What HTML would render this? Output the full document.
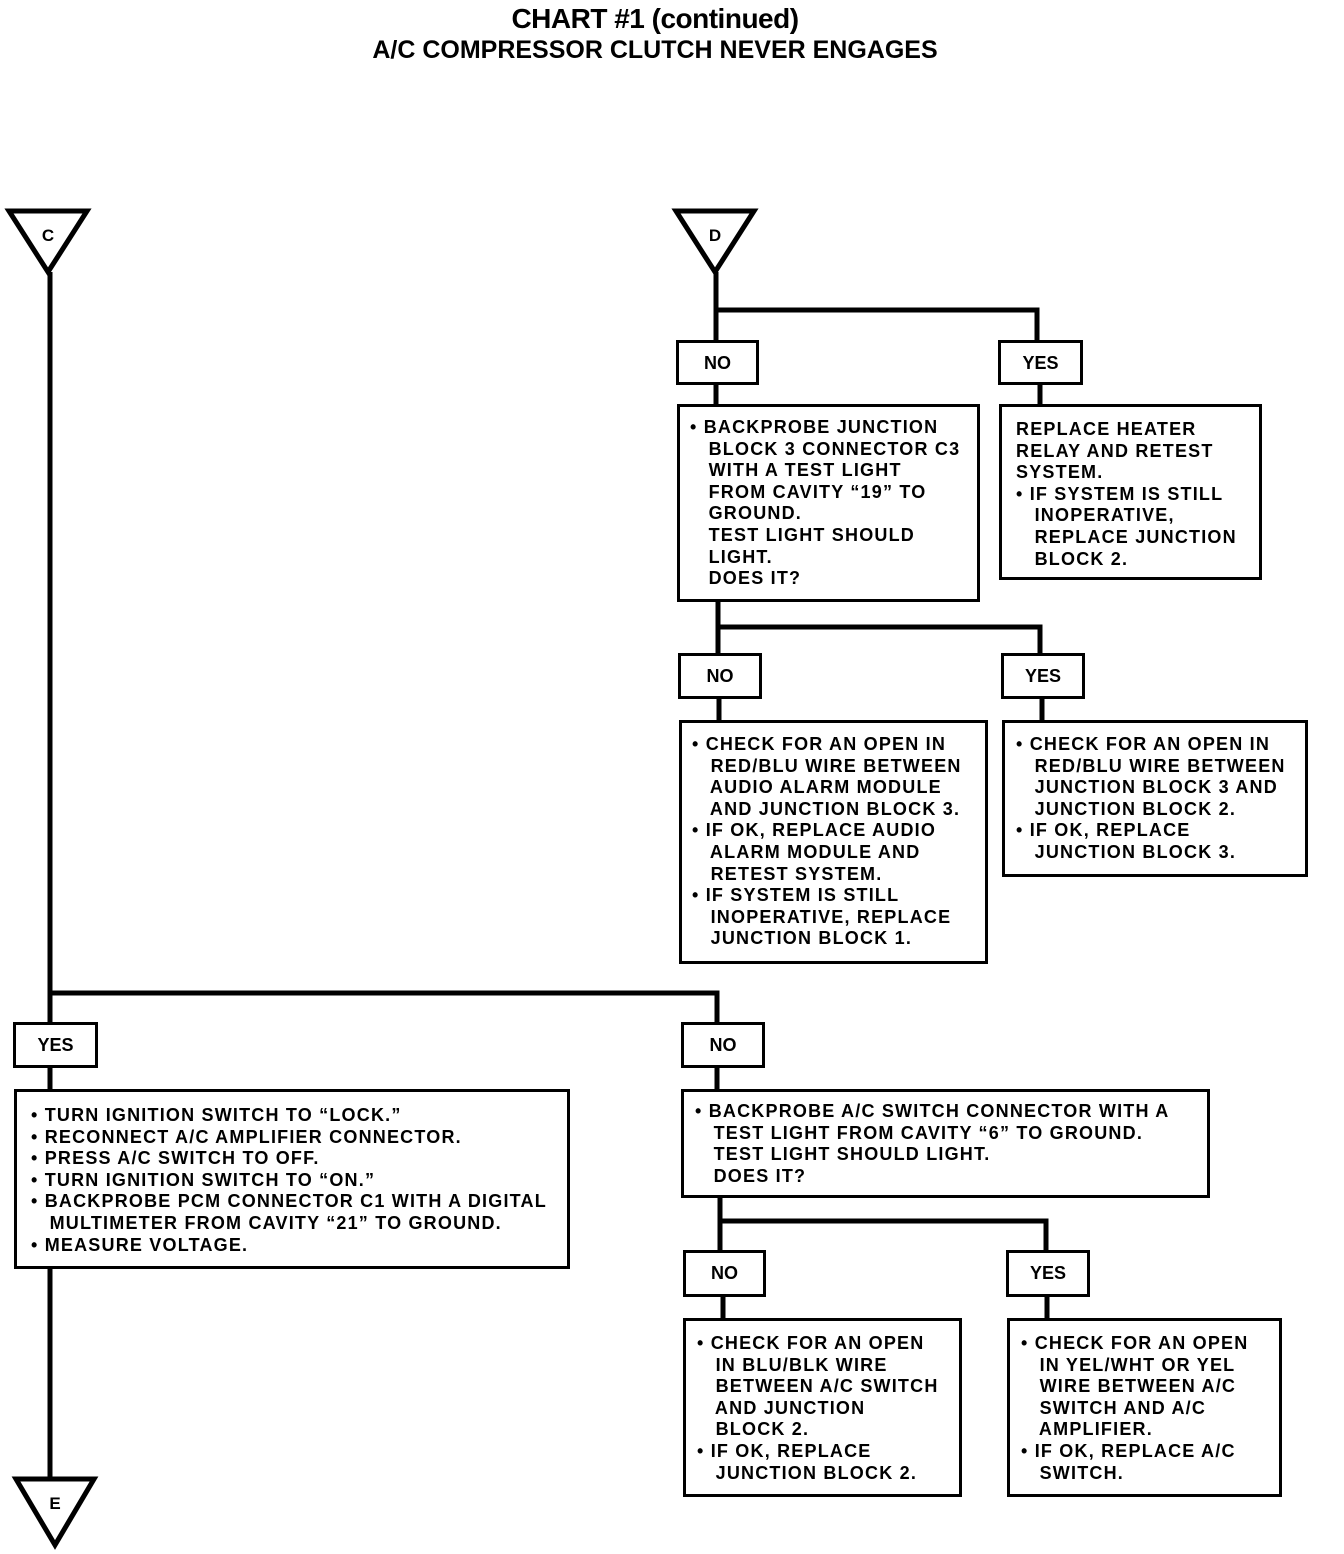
<!DOCTYPE html>
<html><head><meta charset="utf-8"><style>
body{margin:0;width:1344px;height:1554px;background:#fff;position:relative;overflow:hidden;font-family:"Liberation Sans",Arial,sans-serif;font-weight:bold;color:#000}
.b{position:absolute;border:3px solid #000;background:#fff;box-sizing:border-box}
.t{position:absolute;font-size:18px;line-height:21.6px;white-space:pre;letter-spacing:1.2px}
.l{position:absolute;font-size:18px;text-align:center;line-height:40px}
h1{position:absolute;margin:0;width:1344px;left:-17px;text-align:center;font-size:28px;top:3px;letter-spacing:-0.5px}
h2{position:absolute;margin:0;width:1344px;left:-17px;text-align:center;font-size:25px;top:36px}
</style></head><body>
<h1>CHART #1 (continued)</h1>
<h2>A/C COMPRESSOR CLUTCH NEVER ENGAGES</h2>
<svg width="1344" height="1554" style="position:absolute;left:0;top:0">
<g stroke="#000" stroke-width="5" fill="none">
<path d="M50 272V1480"/>
<path d="M716 272V310H1037V342"/>
<path d="M716 310V342M716 384V406"/>
<path d="M718 601V627H1040V655M718 627V655M719 698V722M1042 698V722"/>
<path d="M50 993H717V1024M717 1067V1091"/>
<path d="M720 1197V1221H1046V1252M720 1221V1252M723 1296V1320M1047 1296V1320"/>
<path d="M1040 384V406"/>
</g>
<g stroke="#000" stroke-width="5" fill="#fff">
<path d="M9 211H87L48 272Z"/>
<path d="M676 211H754L715 272Z"/>
<path d="M16 1479H94L55 1545Z"/>
</g>
<g font-family="Liberation Sans,Arial,sans-serif" font-weight="bold" font-size="17" text-anchor="middle">
<text x="48" y="241">C</text><text x="715" y="241">D</text><text x="55" y="1509">E</text>
</g>
</svg>
<div class="b l" style="left:676px;top:340px;width:83px;height:45px">NO</div>
<div class="b l" style="left:998px;top:340px;width:85px;height:45px">YES</div>
<div class="b" style="left:677px;top:404px;width:303px;height:198px"></div>
<div class="t" style="left:690px;top:417px">• BACKPROBE JUNCTION
   BLOCK 3 CONNECTOR C3
   WITH A TEST LIGHT
   FROM CAVITY “19” TO
   GROUND.
   TEST LIGHT SHOULD
   LIGHT.
   DOES IT?</div>
<div class="b" style="left:999px;top:404px;width:263px;height:176px"></div>
<div class="t" style="left:1016px;top:419px">REPLACE HEATER
RELAY AND RETEST
SYSTEM.
• IF SYSTEM IS STILL
   INOPERATIVE,
   REPLACE JUNCTION
   BLOCK 2.</div>
<div class="b l" style="left:678px;top:653px;width:84px;height:46px">NO</div>
<div class="b l" style="left:1001px;top:653px;width:84px;height:46px">YES</div>
<div class="b" style="left:679px;top:720px;width:309px;height:244px"></div>
<div class="t" style="left:692px;top:734px">• CHECK FOR AN OPEN IN
   RED/BLU WIRE BETWEEN
   AUDIO ALARM MODULE
   AND JUNCTION BLOCK 3.
• IF OK, REPLACE AUDIO
   ALARM MODULE AND
   RETEST SYSTEM.
• IF SYSTEM IS STILL
   INOPERATIVE, REPLACE
   JUNCTION BLOCK 1.</div>
<div class="b" style="left:1002px;top:720px;width:306px;height:157px"></div>
<div class="t" style="left:1016px;top:734px">• CHECK FOR AN OPEN IN
   RED/BLU WIRE BETWEEN
   JUNCTION BLOCK 3 AND
   JUNCTION BLOCK 2.
• IF OK, REPLACE
   JUNCTION BLOCK 3.</div>
<div class="b l" style="left:13px;top:1022px;width:85px;height:46px">YES</div>
<div class="b l" style="left:681px;top:1022px;width:84px;height:46px">NO</div>
<div class="b" style="left:14px;top:1089px;width:556px;height:180px"></div>
<div class="t" style="left:31px;top:1105px">• TURN IGNITION SWITCH TO “LOCK.”
• RECONNECT A/C AMPLIFIER CONNECTOR.
• PRESS A/C SWITCH TO OFF.
• TURN IGNITION SWITCH TO “ON.”
• BACKPROBE PCM CONNECTOR C1 WITH A DIGITAL
   MULTIMETER FROM CAVITY “21” TO GROUND.
• MEASURE VOLTAGE.</div>
<div class="b" style="left:681px;top:1089px;width:529px;height:109px"></div>
<div class="t" style="left:695px;top:1101px">• BACKPROBE A/C SWITCH CONNECTOR WITH A
   TEST LIGHT FROM CAVITY “6” TO GROUND.
   TEST LIGHT SHOULD LIGHT.
   DOES IT?</div>
<div class="b l" style="left:683px;top:1250px;width:83px;height:47px">NO</div>
<div class="b l" style="left:1006px;top:1250px;width:84px;height:47px">YES</div>
<div class="b" style="left:683px;top:1318px;width:279px;height:179px"></div>
<div class="t" style="left:697px;top:1333px">• CHECK FOR AN OPEN
   IN BLU/BLK WIRE
   BETWEEN A/C SWITCH
   AND JUNCTION
   BLOCK 2.
• IF OK, REPLACE
   JUNCTION BLOCK 2.</div>
<div class="b" style="left:1007px;top:1318px;width:275px;height:179px"></div>
<div class="t" style="left:1021px;top:1333px">• CHECK FOR AN OPEN
   IN YEL/WHT OR YEL
   WIRE BETWEEN A/C
   SWITCH AND A/C
   AMPLIFIER.
• IF OK, REPLACE A/C
   SWITCH.</div>
</body></html>
